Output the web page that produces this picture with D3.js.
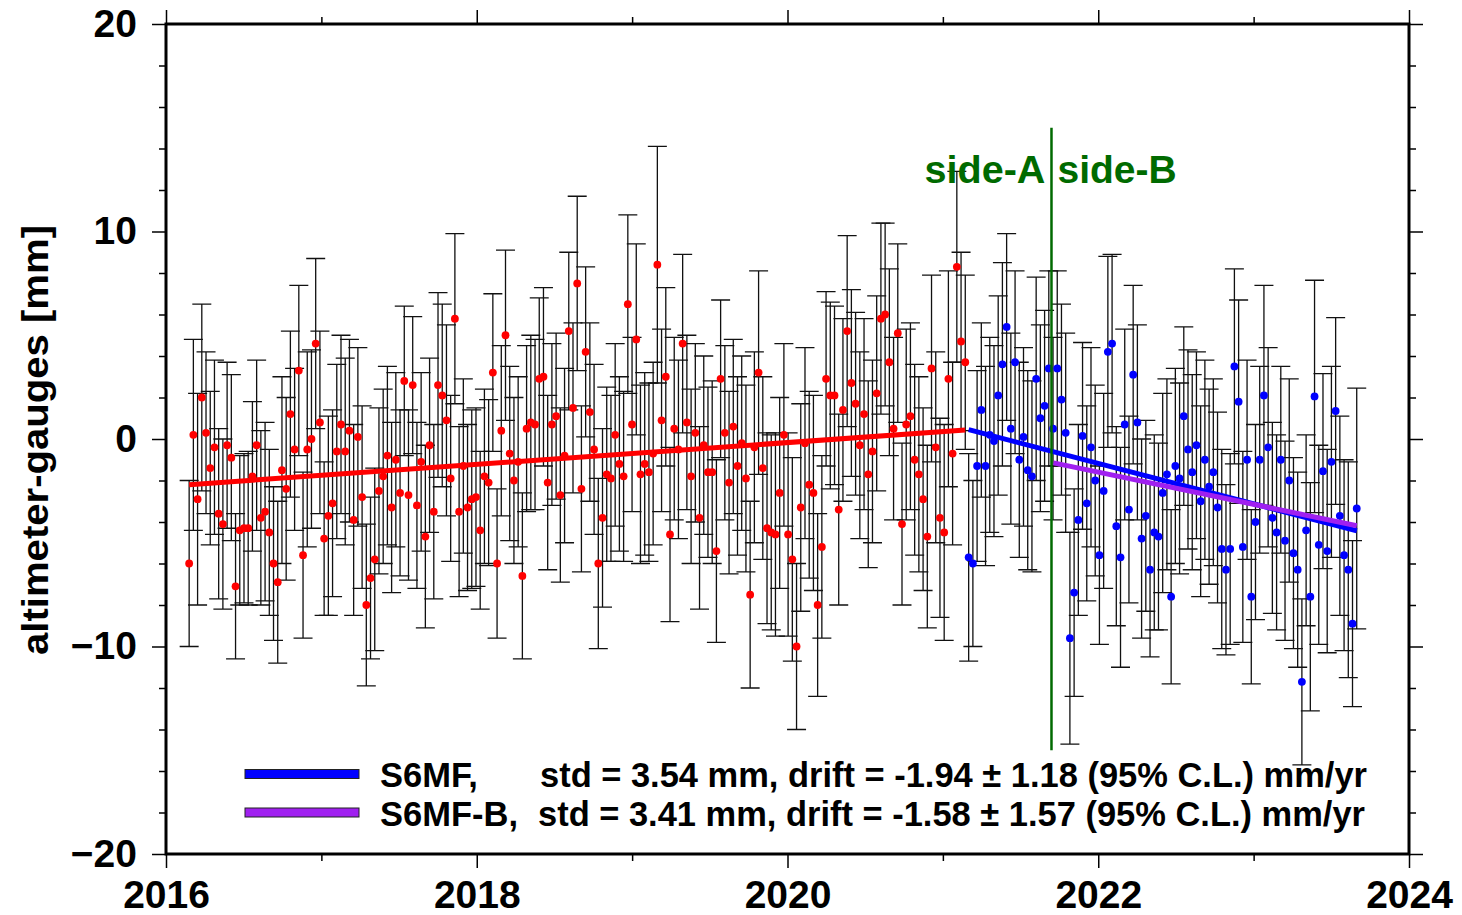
<!DOCTYPE html>
<html>
<head>
<meta charset="utf-8">
<script src="https://cdn.jsdelivr.net/npm/d3@7"></script>
<style>
  body { margin: 0; background: #fff; }
  svg { display: block; font-family: "Liberation Sans", Arial, Helvetica, sans-serif; font-weight: bold; }
</style>
</head>
<body>
<svg id="chart" width="1462" height="915"></svg>
<script>
// repeat cycle of the altimeter (days -> years), one point per cycle
const cycleYears = 9.9156 / 365.25;
const redStart = 2016.149;   // first reference-mission cycle
const blueStart = 2021.166;  // first S6MF cycle

// altimeter minus gauges [mm] per cycle, with error bar half-widths
const redValues = [
  -6.0, 0.2, -2.9, 2.0, 0.3, -1.4, -0.4, -3.6, -4.1, -0.3,
  -0.9, -7.1, -4.4, -4.3, -4.3, -1.8, -0.3, -3.8, -3.5, -4.5,
  -6.0, -6.9, -1.5, -2.4, 1.2, -0.5, 3.3, -5.6, -0.5, 0.0,
  4.6, 0.8, -4.8, -3.7, -3.1, -0.6, 0.7, -0.6, 0.4, -3.9,
  0.1, -2.8, -8.0, -6.7, -5.8, -2.5, -1.8, -0.8, -3.3, -1.0,
  -2.6, 2.8, -2.7, 2.6, -3.2, -1.1, -4.7, -0.3, -3.5, 2.6,
  2.1, 0.9, -1.9, 5.8, -3.5, -1.3, -3.3, -2.9, -2.8, -4.4,
  -1.8, -2.1, 3.2, -6.0, 0.4, 5.0, -0.7, -2.0, -1.1, -6.6,
  0.5, 0.8, 0.7, 2.9, 3.0, -2.1, 0.7, 1.1, -2.7, -0.8,
  5.2, 1.5, 7.5, -2.4, 4.2, 1.3, -0.5, -6.0, -3.8, -1.7,
  -1.9, 0.2, -1.2, -1.8, 6.5, 0.7, 4.8, -1.7, -1.2, -1.6,
  -0.7, 8.4, 0.9, 3.0, -4.6, 0.5, -0.5, 4.6, 0.8, -1.8,
  0.3, -3.8, -0.3, -1.6, -1.6, -5.4, 2.9, 0.3, -2.1, 0.6,
  -1.3, -0.2, -1.9, -7.5, -0.4, 3.2, -1.4, -4.3, -4.5, -4.6,
  -2.6, 0.2, -4.6, -5.8, -10.0, -3.3, -0.2, -2.2, -2.6, -8.0,
  -5.2, 2.9, 2.1, 2.1, -3.4, 1.4, 5.2, 2.7, 1.7, -0.3,
  1.2, -1.7, -0.6, 2.2, 5.8, 6.0, 3.7, 0.5, 5.1, -4.1,
  0.7, 1.1, -1.0, -1.7, -2.9, -4.7, 3.4, -0.4, -3.8, -4.5,
  2.9, -0.7, 8.3, 4.7, 3.7
];
const redErrors = [
  4.0, 4.6, 5.1, 4.5, 3.9, 3.7, 4.2, 4.1, 4.1, 4.0,
  4.0, 3.5, 3.6, 3.6, 3.7, 3.6, 4.1, 4.2, 4.3, 4.0,
  3.7, 3.9, 4.5, 4.4, 4.0, 3.9, 4.1, 4.0, 4.7, 4.3,
  4.1, 4.4, 3.7, 4.8, 4.5, 4.2, 4.3, 4.5, 4.4, 4.6,
  4.3, 4.4, 3.9, 3.9, 4.4, 4.0, 4.2, 4.3, 4.1, 4.2,
  4.0, 3.6, 4.1, 3.3, 4.0, 4.3, 4.4, 4.2, 4.2, 4.45,
  4.4, 4.6, 4.0, 4.1, 4.1, 4.2, 4.0, 4.3, 4.3, 3.8,
  4.2, 4.0, 3.8, 3.6, 4.1, 4.1, 4.2, 4.0, 4.1, 4.0,
  4.0, 4.2, 4.1, 3.9, 4.3, 4.2, 3.9, 4.0, 4.2, 4.2,
  3.8, 4.1, 4.2, 4.0, 4.1, 4.3, 4.1, 4.1, 4.3, 4.2,
  4.0, 4.4, 4.2, 4.1, 4.3, 4.2, 4.6, 4.3, 4.4, 4.3,
  4.4, 5.7, 4.4, 4.3, 4.2, 4.4, 4.3, 4.3, 4.2, 4.2,
  4.3, 4.4, 4.3, 4.1, 4.4, 4.4, 3.8, 4.2, 4.4, 4.2,
  4.3, 4.2, 4.5, 4.5, 4.6, 4.9, 4.4, 4.6, 4.7, 4.9,
  4.6, 4.4, 4.9, 4.9, 4.0, 5.0, 4.6, 4.5, 4.7, 4.4,
  4.4, 4.2, 4.5, 4.3, 4.6, 4.4, 4.6, 4.5, 4.4, 4.5,
  4.6, 4.5, 4.4, 4.7, 4.6, 4.4, 4.5, 4.4, 4.3, 3.9,
  4.6, 4.5, 4.6, 4.7, 4.4, 4.4, 4.5, 4.6, 4.8, 5.2,
  5.2, 4.4, 4.6, 4.3, 4.2
];
const blueValues = [
  -5.7, -6.0, -1.3, 1.4, -1.3, 0.2, -0.1, 2.1, 3.6, 5.4,
  0.5, 3.7, -1.0, 0.1, -1.5, -1.8, 2.9, 1.0, 1.6, 3.4,
  0.5, 3.4, 1.9, 0.3, -9.6, -7.4, -3.9, 0.15, -3.1, -0.4,
  -2.0, -5.6, -2.5, 4.2, 4.6, -4.2, -5.7, 0.7, -3.4, 3.1,
  0.8, -4.8, -3.7, -6.3, -4.5, -4.7, -2.6, -1.7, -7.6, -1.3,
  -1.9, 1.1, -0.5, -1.6, -0.3, -3.0, -1.0, -2.3, -1.6, -3.3,
  -5.3, -6.3, -5.3, 3.5, 1.8, -5.2, -1.0, -7.6, -4.0, -1.0,
  2.1, -0.4, -3.8, -4.5, -1.0, -4.9, -2.0, -5.5, -6.3, -11.7,
  -4.4, -7.6, 2.05, -5.1, -1.55, -5.4, -1.1, 1.35, -3.7, -5.6,
  -6.3, -8.9, -3.35
];
const blueErrors = [
  5.0, 4.0, 4.6, 4.2, 4.8, 4.7, 4.6, 4.8, 4.9, 4.5,
  4.6, 4.4, 4.7, 4.3, 4.8, 4.6, 4.9, 4.5, 4.6, 4.7,
  4.4, 4.7, 4.6, 4.8, 5.1, 5.0, 4.6, 4.5, 4.7, 4.8,
  4.6, 4.3, 4.7, 4.6, 4.3, 4.8, 5.3, 4.6, 4.5, 4.3,
  4.7, 4.8, 4.6, 4.2, 4.7, 4.5, 4.8, 4.6, 4.2, 4.7,
  4.6, 4.3, 4.8, 4.7, 4.5, 4.6, 4.8, 4.7, 4.5, 4.6,
  4.8, 4.1, 4.6, 4.7, 4.9, 4.6, 4.8, 4.2, 4.7, 4.5,
  5.3, 4.8, 4.6, 4.7, 4.5, 4.8, 4.9, 4.6, 4.7, 4.0,
  4.6, 5.5, 5.6, 4.8, 4.7, 4.9, 4.6, 4.5, 4.8, 4.6,
  5.2, 4.0, 5.8
];

// linear fits [year, mm]
const redFit = [[2016.149, -2.2], [2021.144, 0.43]];
const blueFit = [[2021.166, 0.45], [2023.664, -4.42]];
const purpleFit = [[2021.712, -1.15], [2023.664, -4.18]];

// switch from side A to side B
const sideSwitch = 2021.699;
const sideLabels = ["side-A", "side-B"];

const xTicksMajor = [2016, 2018, 2020, 2022, 2024];
const xTicksMinor = [2017, 2019, 2021, 2023];
const yTicksMajor = [-20, -10, 0, 10, 20];
const yTicksMinor = [-18, -16, -14, -12, -8, -6, -4, -2, 2, 4, 6, 8, 12, 14, 16, 18];

const legendLabels = ["S6MF,", "S6MF-B,"];
const legendStats = [
  "std = 3.54 mm, drift = -1.94 \u00b1 1.18 (95% C.L.) mm/yr",
  "std = 3.41 mm, drift = -1.58 \u00b1 1.57 (95% C.L.) mm/yr"
];
const legendColors = ["#0000ff", "#a020f0"];

const MarginLeft = 166, MarginRight = 53, MarginTop = 24, MarginBottom = 61;
const width = 1462, height = 915;
const CapHalf = 9.5;

const x = d3.scaleLinear([2016, 2024], [MarginLeft, width - MarginRight]);
const y = d3.scaleLinear([-20, 20], [height - MarginBottom, MarginTop]);

const svg = d3.select("#chart");

const red = redValues.map((v, i) => ({ t: redStart + i * cycleYears, v: v, e: redErrors[i] }));
const blue = blueValues.map((v, i) => ({ t: blueStart + i * cycleYears, v: v, e: blueErrors[i] }));

// error bars (black, with wide caps)
const errPath = d => {
  const px = x(d.t), y0 = y(d.v - d.e), y1 = y(d.v + d.e);
  return `M${px},${y0}V${y1}M${px - CapHalf},${y1}H${px + CapHalf}M${px - CapHalf},${y0}H${px + CapHalf}`;
};
svg.append("g")
  .selectAll("path")
  .data(red.concat(blue))
  .join("path")
  .attr("d", errPath)
  .attr("fill", "none")
  .attr("stroke", "#111")
  .attr("stroke-width", 1.3);

// points
svg.append("g")
  .selectAll("circle")
  .data(red)
  .join("circle")
  .attr("cx", d => x(d.t))
  .attr("cy", d => y(d.v))
  .attr("r", 3.9)
  .attr("fill", "#ff0000");

svg.append("g")
  .selectAll("circle")
  .data(blue)
  .join("circle")
  .attr("cx", d => x(d.t))
  .attr("cy", d => y(d.v))
  .attr("r", 3.9)
  .attr("fill", "#0000ff");

// fit lines
const line = d3.line().x(d => x(d[0])).y(d => y(d[1]));
[[redFit, "#ff0000"], [blueFit, "#0000ff"], [purpleFit, "#a020f0"]].forEach(([fit, col]) => {
  svg.append("path")
    .attr("d", line(fit))
    .attr("fill", "none")
    .attr("stroke", col)
    .attr("stroke-width", 5);
});

// side A / side B marker
const green = "#006a00";
svg.append("line")
  .attr("x1", x(sideSwitch)).attr("x2", x(sideSwitch))
  .attr("y1", y(15)).attr("y2", y(-15))
  .attr("stroke", green)
  .attr("stroke-width", 2.5);
svg.append("text")
  .attr("x", x(sideSwitch) - 6)
  .attr("y", 183)
  .attr("text-anchor", "end")
  .attr("font-size", 39)
  .attr("textLength", 121)
  .attr("lengthAdjust", "spacingAndGlyphs")
  .attr("fill", green)
  .text(sideLabels[0]);
svg.append("text")
  .attr("x", x(sideSwitch) + 6)
  .attr("y", 183)
  .attr("font-size", 39)
  .attr("fill", green)
  .text(sideLabels[1]);

// axes: annotated on W and S, ticks outward on all four sides
const styleAxis = g => {
  g.select(".domain").remove();
  g.selectAll(".tick line").attr("stroke", "#000").attr("stroke-width", 1.5);
  g.selectAll(".tick text").attr("fill", "#000").attr("font-size", 39)
    .attr("font-family", "Liberation Sans, Arial, sans-serif").attr("font-weight", "bold");
};
const fmtY = d => d < 0 ? "\u2212" + Math.abs(d) : String(d);

svg.append("g").attr("transform", `translate(${MarginLeft},0)`)
  .call(d3.axisLeft(y).tickValues(yTicksMajor).tickSize(14).tickPadding(15).tickFormat(fmtY))
  .call(styleAxis);
svg.append("g").attr("transform", `translate(${MarginLeft},0)`)
  .call(d3.axisLeft(y).tickValues(yTicksMinor).tickSize(7).tickFormat(""))
  .call(styleAxis);
svg.append("g").attr("transform", `translate(${width - MarginRight},0)`)
  .call(d3.axisRight(y).tickValues(yTicksMajor).tickSize(14).tickFormat(""))
  .call(styleAxis);
svg.append("g").attr("transform", `translate(${width - MarginRight},0)`)
  .call(d3.axisRight(y).tickValues(yTicksMinor).tickSize(7).tickFormat(""))
  .call(styleAxis);

svg.append("g").attr("transform", `translate(0,${height - MarginBottom})`)
  .call(d3.axisBottom(x).tickValues(xTicksMajor).tickSize(14).tickPadding(12).tickFormat(d3.format("d")))
  .call(styleAxis);
svg.append("g").attr("transform", `translate(0,${height - MarginBottom})`)
  .call(d3.axisBottom(x).tickValues(xTicksMinor).tickSize(7).tickFormat(""))
  .call(styleAxis);
svg.append("g").attr("transform", `translate(0,${MarginTop})`)
  .call(d3.axisTop(x).tickValues(xTicksMajor).tickSize(14).tickFormat(""))
  .call(styleAxis);
svg.append("g").attr("transform", `translate(0,${MarginTop})`)
  .call(d3.axisTop(x).tickValues(xTicksMinor).tickSize(7).tickFormat(""))
  .call(styleAxis);

// frame
svg.append("rect")
  .attr("x", MarginLeft)
  .attr("y", MarginTop)
  .attr("width", width - MarginLeft - MarginRight)
  .attr("height", height - MarginTop - MarginBottom)
  .attr("fill", "none")
  .attr("stroke", "#000")
  .attr("stroke-width", 3);

// y axis title
svg.append("text")
  .attr("transform", `translate(48,440) rotate(-90)`)
  .attr("text-anchor", "middle")
  .attr("font-size", 36)
  .attr("textLength", 430)
  .attr("lengthAdjust", "spacingAndGlyphs")
  .text("altimeter-gauges [mm]");

// legend
const legend = svg.append("g");
legendLabels.forEach((lab, i) => {
  const cy = 774 + i * 38.5;
  legend.append("rect")
    .attr("x", 245).attr("y", cy - 4.5)
    .attr("width", 114).attr("height", 9)
    .attr("fill", legendColors[i])
    .attr("stroke", "#222")
    .attr("stroke-width", 1);
  legend.append("text")
    .attr("x", 380).attr("y", cy + 13)
    .attr("font-size", 34.5)
    .text(lab);
  legend.append("text")
    .attr("x", i === 0 ? 540 : 538).attr("y", cy + 13)
    .attr("font-size", 34.5)
    .attr("textLength", 827)
    .attr("lengthAdjust", "spacingAndGlyphs")
    .text(legendStats[i]);
});
</script>
</body>
</html>
